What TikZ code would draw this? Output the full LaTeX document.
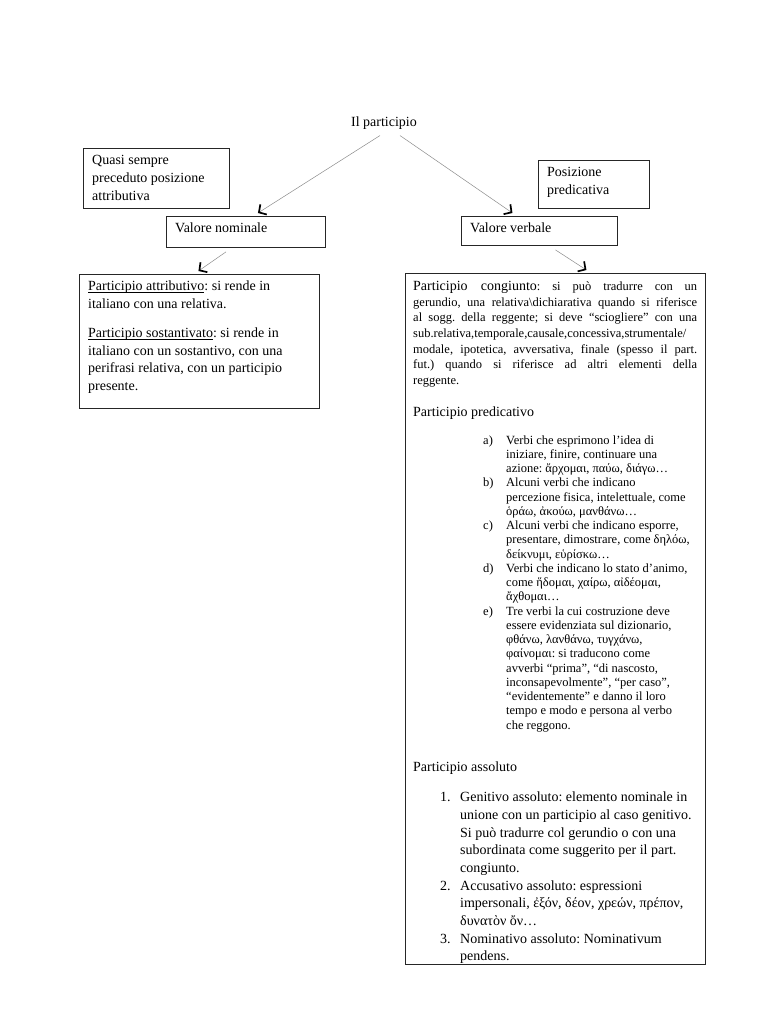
\documentclass[tikz,border=0pt]{standalone}
\usepackage{fontspec}
\setmainfont{Liberation Serif}
\usetikzlibrary{arrows.meta}
\newcommand\myul[1]{\setbox0\hbox{#1}\rlap{\rule[-1.6pt]{\wd0}{0.55pt}}#1}
\begin{document}
\frenchspacing
\begin{tikzpicture}[x=1pt,y=-1pt,
  box/.style={draw=black!85, line width=0.9pt, inner sep=0pt, anchor=north west},
  txt/.style={inner sep=0pt, anchor=base west, font=\fontsize{14}{18}\selectfont},
  para/.style={inner sep=0pt, anchor=north west, align=left, font=\fontsize{14}{17.5}\selectfont},
  lst/.style={inner sep=0pt, anchor=north west},
  conn/.style={draw=black!45, line width=0.5pt, -{Straight Barb[length=5.5pt,width=12pt,line width=1.7pt,black]}}]
\fill[white] (0,0) rectangle (768,1024);
\useasboundingbox (0,0) rectangle (768,1024);

% boxes
\node[box, minimum width=146pt, minimum height=60pt] (quasi) at (83,148) {};
\node[box, minimum width=159pt, minimum height=31pt] (vnom) at (166,216) {};
\node[box, minimum width=111pt, minimum height=48pt] (posiz) at (538,160) {};
\node[box, minimum width=156pt, minimum height=29pt] (vverb) at (461,216) {};
\node[box, minimum width=240pt, minimum height=134pt] (lbox) at (79,274) {};
\node[box, minimum width=300pt, minimum height=691pt] (rbox) at (405,273) {};

% title
\node[inner sep=0pt, font=\fontsize{14}{18}\selectfont] (title) at (384,123) {Il participio};

% small box texts
\node[para, font=\fontsize{14}{18}\selectfont] (quasitxt) at (92,155) {Quasi sempre\\preceduto posizione\\attributiva};
\node[txt] (vnomtxt) at (175,233) {Valore nominale};
\node[para, font=\fontsize{14}{18}\selectfont] (posiztxt) at (547,167) {Posizione\\predicativa};
\node[txt] (vverbtxt) at (470,233) {Valore verbale};

% left box
\node[para] (attr) at (88,281) {\myul{Participio attributivo}: si rende in\\italiano con una relativa.};
\node[para] (sost) at (88,328) {\myul{Participio sostantivato}: si rende in\\italiano con un sostantivo, con una\\perifrasi relativa, con un participio\\presente.};

% right box: participio congiunto
\node[inner sep=0pt, anchor=north west, align=left, font=\fontsize{12.5}{15.7}\selectfont] (cong) at (413,281) {%
\makebox[284pt][s]{{\fontsize{14}{15.7}\selectfont Participio congiunto}: si può tradurre con un}\\
\makebox[284pt][s]{gerundio, una relativa\textbackslash dichiarativa quando si riferisce}\\
\makebox[284pt][s]{al sogg. della reggente; si deve “sciogliere” con una}\\
\makebox[284pt][l]{sub.relativa,temporale,causale,concessiva,strumentale/}\\
\makebox[284pt][s]{modale, ipotetica, avversativa, finale (spesso il part.}\\
\makebox[284pt][s]{fut.) quando si riferisce ad altri elementi della}\\
reggente.};

% participio predicativo
\node[txt] (pred) at (413,416) {Participio predicativo};
\node[lst, font=\fontsize{12.5}{14.25}\selectfont] (predlist) at (483,434) {%
\begin{tabular}{@{}p{23pt}@{}l@{}}
a) & Verbi che esprimono l’idea di\\
 & iniziare, finire, continuare una\\
 & azione: ἄρχομαι, παύω, διάγω…\\
b) & Alcuni verbi che indicano\\
 & percezione fisica, intelettuale, come\\
 & ὁράω, ἀκούω, μανθάνω…\\
c) & Alcuni verbi che indicano esporre,\\
 & presentare, dimostrare, come δηλόω,\\
 & δείκνυμι, εὑρίσκω…\\
d) & Verbi che indicano lo stato d’animo,\\
 & come ἥδομαι, χαίρω, αἰδέομαι,\\
 & ἄχθομαι…\\
e) & Tre verbi la cui costruzione deve\\
 & essere evidenziata sul dizionario,\\
 & φθάνω, λανθάνω, τυγχάνω,\\
 & φαίνομαι: si traducono come\\
 & avverbi “prima”, “di nascosto,\\
 & inconsapevolmente”, “per caso”,\\
 & “evidentemente” e danno il loro\\
 & tempo e modo e persona al verbo\\
 & che reggono.
\end{tabular}};

% participio assoluto
\node[txt] (ass) at (413,771) {Participio assoluto};
\node[lst, font=\fontsize{14}{17.7}\selectfont] (asslist) at (440,789) {%
\begin{tabular}{@{}p{20pt}@{}l@{}}
1. & Genitivo assoluto: elemento nominale in\\
 & unione con un participio al caso genitivo.\\
 & Si può tradurre col gerundio o con una\\
 & subordinata come suggerito per il part.\\
 & congiunto.\\
2. & Accusativo assoluto: espressioni\\
 & impersonali, ἐξόν, δέον, χρεών, πρέπον,\\
 & δυνατὸν ὄν…\\
3. & Nominativo assoluto: Nominativum\\
 & pendens.
\end{tabular}};

% connectors
\draw[conn] ([xshift=-4pt,yshift=-6pt]title.south) -- ([xshift=12pt,yshift=3pt]vnom.north);
\draw[conn] ([xshift=16pt,yshift=-6pt]title.south) -- ([xshift=-27pt,yshift=3pt]vverb.north);
\draw[conn] ([xshift=-20pt,yshift=-4pt]vnom.south) -- ([xshift=-1pt,yshift=3pt]lbox.north);
\draw[conn] ([xshift=16pt,yshift=-4pt]vverb.south) -- ([xshift=31pt,yshift=3pt]rbox.north);
\end{tikzpicture}
\end{document}
